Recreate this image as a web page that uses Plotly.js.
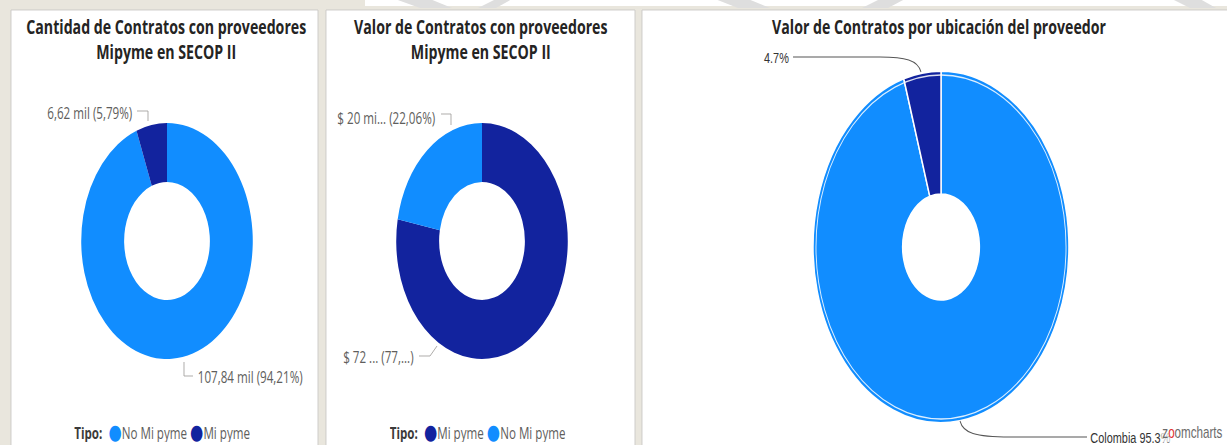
<!DOCTYPE html>
<html>
<head>
<meta charset="utf-8">
<script src="https://cdn.plot.ly/plotly-3.0.1.min.js"></script>
<style>
  html, body { margin: 0; padding: 0; background: #e9e6dd; overflow: hidden; }
  #wrap { width: 1227px; height: 445px; overflow: hidden; position: relative; }
  #chart { width: 1688px; height: 445px; transform: scaleX(0.7269); transform-origin: 0 0; }
</style>
</head>
<body>
<div id="wrap"><div id="chart"></div></div>
<script>
// ---- data ----
const cantTipos = ['No Mi pyme', 'Mi pyme'];
const cantValores = [107.84, 6.62];             // miles de contratos
const cantEtiquetas = ['107,84 mil (94,21%)', '6,62 mil (5,79%)'];

const valorTipos = ['Mi pyme', 'No Mi pyme'];
const valorValores = [72.08, 20.40];            // valor aprox.
const valorEtiquetas = ['$ 72 ... (77,...)', '$ 20 mi... (22,06%)'];

const ubicaciones = ['Colombia', 'Exterior'];
const ubicValores = [95.3, 4.7];
const ubicEtiquetas = ['Colombia 95.3%', '4.7%'];

const titulos = [
  'Cantidad de Contratos con proveedores<br>Mipyme en SECOP II',
  'Valor de Contratos con proveedores<br>Mipyme en SECOP II',
  'Valor de Contratos por ubicación del proveedor'
];
const leyendaTitulo = 'Tipo:';

const colores = { 'No Mi pyme': '#118DFF', 'Mi pyme': '#12239E', 'Colombia': '#118DFF', 'Exterior': '#12239E' };

// ---- geometry helpers (reference pixel -> paper) ----
const REFW = 1227, H = 445, S = 0.7269, PW = 1688;
const fx = x => x / REFW;
const fy = y => 1 - y / H;
function dom(cx, cy, r) {
  return { x: [fx(cx) - r / PW, fx(cx) + r / PW], y: [fy(cy + r), fy(cy - r)] };
}

const FONT = '"Open Sans", "Noto Sans", sans-serif';
const ARIAL = '"Liberation Sans", Arial, sans-serif';

const d1 = dom(167, 241, 118), d2 = dom(482, 241, 118), d3 = dom(941, 247, 176);

const traces = [
  { type: 'pie', labels: cantTipos, values: cantValores, hole: 0.5, sort: false,
    direction: 'clockwise', rotation: 0, textinfo: 'none', hoverinfo: 'label+value+percent',
    marker: { colors: cantTipos.map(t => colores[t]), line: { width: 0 } },
    domain: d1, showlegend: false },
  { type: 'pie', labels: valorTipos, values: valorValores, hole: 0.5, sort: false,
    direction: 'clockwise', rotation: 0, textinfo: 'none', hoverinfo: 'label+value+percent',
    marker: { colors: valorTipos.map(t => colores[t]), line: { width: 0 } },
    domain: d2, showlegend: false },
  { type: 'pie', labels: ubicaciones, values: ubicValores, hole: 0.3, sort: false,
    direction: 'clockwise', rotation: 0, textinfo: 'none', hoverinfo: 'label+percent',
    marker: { colors: ubicaciones.map(t => colores[t]), line: { width: 2, color: '#ffffff' } },
    domain: d3, showlegend: false }
];

// ---- panels & decorations ----
const shapes = [];
function rect(x0, y0, x1, y1, fill, line) {
  shapes.push({ type: 'rect', xref: 'paper', yref: 'paper', layer: 'below',
    x0: fx(x0), x1: fx(x1), y0: fy(y1), y1: fy(y0), fillcolor: fill,
    line: line ? { color: line, width: 1 } : { width: 0 } });
}
function poly(pts, fill) {
  const p = pts.map((q, i) => (i ? 'L' : 'M') + fx(q[0]) + ',' + fy(q[1])).join(' ') + ' Z';
  shapes.push({ type: 'path', xref: 'paper', yref: 'paper', layer: 'below', path: p,
    fillcolor: fill, line: { width: 0 } });
}
function line(pts, color, w) {
  const p = pts.map((q, i) => (i ? 'L' : 'M') + fx(q[0]) + ',' + fy(q[1])).join(' ');
  shapes.push({ type: 'path', xref: 'paper', yref: 'paper', layer: 'above', path: p,
    line: { color: color, width: w || 1 } });
}
function curve(d, color) {
  shapes.push({ type: 'path', xref: 'paper', yref: 'paper', layer: 'above', path: d,
    line: { color: color, width: 1.2 } });
}
// watermark strip at the top
rect(365, -2, 1230, 6, '#ffffff');
poly([[395, -1], [430, -1], [452, 8], [420, 8]], '#dedede');
poly([[478, 8], [496, -1], [512, -1], [496, 8]], '#dedede');
poly([[715, -1], [748, -1], [770, 8], [738, 8]], '#dedede');
poly([[862, 8], [880, -1], [905, -1], [888, 8]], '#dedede');
poly([[1172, -1], [1200, -1], [1216, 8], [1190, 8]], '#dedede');
// panels
rect(11, 10, 318, 450, '#ffffff', '#c8c6c4');
rect(326, 10, 635, 450, '#ffffff', '#c8c6c4');
rect(642, 10, 1232, 450, '#ffffff', '#c8c6c4');

// leader lines donut 1 & 2 (Power BI style)
const LC = '#a19f9d';
line([[137, 111], [148, 111], [148, 121]], LC);
line([[184, 362], [184, 376], [193, 376]], LC);
line([[441, 114], [451, 114], [451, 125]], LC);
line([[419, 356], [430, 356], [437, 346]], LC);

// inner white ring of donut 3
const r3 = 172;
shapes.push({ type: 'circle', xref: 'paper', yref: 'paper', layer: 'above',
  x0: fx(941) - r3 / PW, x1: fx(941) + r3 / PW, y0: fy(247 + r3), y1: fy(247 - r3),
  line: { color: 'rgba(255,255,255,0.85)', width: 1.3 }, fillcolor: 'rgba(0,0,0,0)' });

// zoomcharts-style curved leaders
curve(`M${fx(793)},${fy(57)} L${fx(880)},${fy(57)} C${fx(905)},${fy(57)} ${fx(918)},${fy(60)} ${fx(921)},${fy(72)}`, '#555555');
curve(`M${fx(960)},${fy(421)} C${fx(963)},${fy(433)} ${fx(975)},${fy(437)} ${fx(1010)},${fy(437)} L${fx(1087)},${fy(437)}`, '#555555');

// ---- annotations ----
const annotations = [];
function txt(text, x, y, size, color, xanchor, extra) {
  annotations.push(Object.assign({ text: text, x: fx(x), y: fy(y), xref: 'paper', yref: 'paper',
    showarrow: false, xanchor: xanchor || 'center', yanchor: 'middle',
    font: { family: FONT, size: size, color: color } }, extra || {}));
}
const TF = { family: FONT, size: 19.5, color: '#252423', weight: 700 };
// titles
txt(titulos[0], 166, 39, 19.5, '#252423', 'center', { font: TF });
txt(titulos[1], 481, 39, 19.5, '#252423', 'center', { font: TF });
txt(titulos[2], 939, 27, 19.5, '#252423', 'center', { font: TF });

// data labels donut 1 & 2
txt(cantEtiquetas[1], 134, 113, 16, '#605e5c', 'right');
txt(cantEtiquetas[0], 196, 377, 16, '#605e5c', 'left');
txt(valorEtiquetas[1], 437, 118, 16, '#605e5c', 'right');
txt(valorEtiquetas[0], 415, 357, 16, '#605e5c', 'right');

// donut 3 labels
txt(ubicEtiquetas[1], 790, 57, 15, '#333333', 'right', { font: { family: ARIAL, size: 15, color: '#333333' } });
txt(ubicEtiquetas[0], 1089, 437, 15, '#333333', 'left', { font: { family: ARIAL, size: 15, color: '#333333' } });
txt('z<span style="color:#e03030">o</span>omcharts', 1224, 432, 16, '#6b6b6b', 'right',
  { font: { family: ARIAL, size: 16, color: '#6b6b6b' }, bgcolor: 'rgba(255,255,255,0.7)' });

// legends
function leyenda(tipos, x) {
  const parts = tipos.map(t => `<span style="color:${colores[t]};font-size:21px;font-family:'DejaVu Sans'">●</span>${t}`);
  txt(`<b style="color:#3b3a39">${leyendaTitulo}</b>  ` + parts.join(' '), x, 432, 16, '#605e5c', 'left',
    { yanchor: 'middle', height: 20, valign: 'middle' });
}
leyenda(cantTipos, 73);
leyenda(valorTipos, 388);

const layout = {
  width: PW, height: H,
  margin: { l: 0, r: 0, t: 0, b: 0 },
  paper_bgcolor: '#e9e6dd', plot_bgcolor: '#e9e6dd',
  showlegend: false,
  shapes: shapes, annotations: annotations,
  font: { family: FONT }
};
Plotly.newPlot('chart', traces, layout, { displayModeBar: false, staticPlot: true });
</script>
</body>
</html>
